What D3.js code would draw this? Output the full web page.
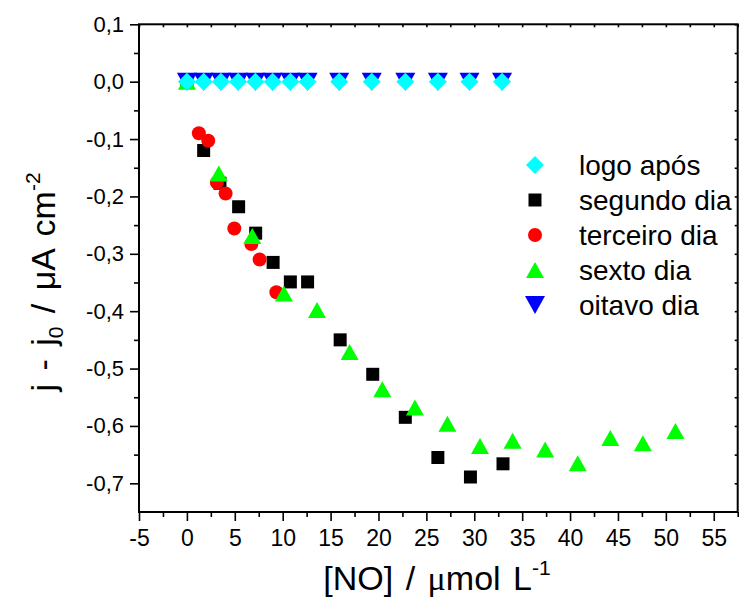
<!DOCTYPE html>
<html>
<head>
<meta charset="utf-8">
<script src="https://cdn.jsdelivr.net/npm/d3@7"></script>
<style>
  body { margin: 0; background: #fff; }
  text { font-family: "Liberation Sans", Arial, sans-serif; fill: #000; }
</style>
</head>
<body>
<svg id="chart" width="739" height="598"></svg>
<script>
// Concentration steps (µmol/L) for the first-day / eighth-day runs
const concLogo = [0, 1.75, 3.55, 5.35, 7.15, 8.95, 10.8, 12.6, 15.9, 19.3, 22.8, 26.2, 29.5, 32.9];
const logoApos = [0, 0, 0, 0, 0, 0, 0, 0, 0, 0, 0, 0, 0, 0];
const oitavoDia = [0, 0, 0, 0, 0, 0, 0, 0, 0, 0, 0, 0, 0, 0];

const concSegundo = [0, 1.75, 3.45, 5.4, 7.18, 9.0, 10.8, 12.6, 16.0, 19.4, 22.8, 26.2, 29.6, 33.0];
const segundoDia = [0, -0.120, -0.177, -0.218, -0.264, -0.315, -0.349, -0.349, -0.450, -0.510, -0.585, -0.655, -0.689, -0.666];

const concTerceiro = [1.25, 2.23, 3.13, 4.04, 4.95, 6.73, 7.59, 9.34];
const terceiroDia = [-0.090, -0.103, -0.176, -0.195, -0.256, -0.283, -0.310, -0.367];

const concSexto = [0, 3.33, 6.83, 10.13, 13.58, 16.99, 20.40, 23.8, 27.2, 30.6, 34.0, 37.4, 40.8, 44.2, 47.6, 51.0];
const sextoDia = [0, -0.160, -0.269, -0.369, -0.398, -0.471, -0.536, -0.568, -0.596, -0.635, -0.626, -0.641, -0.665, -0.621, -0.630, -0.609];

const xTicks = [-5, 0, 5, 10, 15, 20, 25, 30, 35, 40, 45, 50, 55];
const yTicks = [0.1, 0.0, -0.1, -0.2, -0.3, -0.4, -0.5, -0.6, -0.7];

const legendNames = ["logo após", "segundo dia", "terceiro dia", "sexto dia", "oitavo dia"];

const svg = d3.select("#chart");
const plotLeft = 139, plotRight = 737.7, plotTop = 24.3, plotBottom = 512;

const x = d3.scaleLinear().domain([-5, 57.5]).range([plotLeft, plotRight]);
const y = d3.scaleLinear().domain([-0.75, 0.1]).range([plotBottom, plotTop]);

// plain hyphen for negatives, comma as decimal separator
const fmtX = v => String(v);
const fmtY = v => d3.format(".1f")(v).replace("−", "-").replace(".", ",");

// minor tick positions halfway between majors
const xMinor = d3.range(-2.5, 57.6, 5);
const yMinor = [0.05, -0.05, -0.15, -0.25, -0.35, -0.45, -0.55, -0.65];

// ---- axes ----
const gx = svg.append("g").attr("transform", `translate(0,${plotBottom})`)
  .call(d3.axisBottom(x).tickValues(xTicks).tickSize(9).tickPadding(9).tickFormat(fmtX));
svg.append("g").attr("transform", `translate(0,${plotBottom})`)
  .call(d3.axisBottom(x).tickValues(xMinor).tickSize(5).tickFormat(""));
const gy = svg.append("g").attr("transform", `translate(${plotLeft},0)`)
  .call(d3.axisLeft(y).tickValues(yTicks).tickSize(9).tickPadding(6).tickFormat(fmtY));
svg.append("g").attr("transform", `translate(${plotLeft},0)`)
  .call(d3.axisLeft(y).tickValues(yMinor).tickSize(5).tickFormat(""));
// mirrored axes with short inward ticks
svg.append("g").attr("transform", `translate(0,${plotTop})`)
  .call(d3.axisBottom(x).tickValues(xTicks.concat(xMinor)).tickSize(3).tickFormat(""));
svg.append("g").attr("transform", `translate(${plotRight},0)`)
  .call(d3.axisLeft(y).tickValues(yTicks.concat(yMinor)).tickSize(3).tickFormat(""));

svg.selectAll(".domain").remove();
svg.selectAll(".tick line").attr("stroke", "#000").attr("stroke-width", 1.6);
svg.selectAll(".tick text").style("font-family", "'Liberation Sans', Arial, sans-serif").attr("fill", "#000");
gx.selectAll(".tick text").style("font-size", "23px");
gy.selectAll(".tick text").style("font-size", "22px");

svg.append("rect").attr("x", plotLeft).attr("y", plotTop)
  .attr("width", plotRight - plotLeft).attr("height", plotBottom - plotTop)
  .attr("fill", "none").attr("stroke", "#000").attr("stroke-width", 2);

// ---- marker shapes (centered on their bounding box) ----
const shapes = {
  square: (w) => `M${-w/2},${-w/2}h${w}v${w}h${-w}Z`,
  circle: (w) => { const r = w / 2; return `M${-r},0a${r},${r} 0 1,0 ${w},0a${r},${r} 0 1,0 ${-w},0Z`; },
  up: (w, h) => `M0,${-h/2}L${w/2},${h/2}L${-w/2},${h/2}Z`,
  down: (w, h) => `M${-w/2},${-h/2}L${w/2},${-h/2}L0,${h/2}Z`,
  diamond: (w, h) => `M0,${-h/2}L${w/2},0L0,${h/2}L${-w/2},0Z`
};

const series = [
  { name: legendNames[1], xs: concSegundo, ys: segundoDia, color: "#000000", path: shapes.square(13) },
  { name: legendNames[2], xs: concTerceiro, ys: terceiroDia, color: "#ff0000", path: shapes.circle(14) },
  { name: legendNames[3], xs: concSexto, ys: sextoDia, color: "#00ff00", path: shapes.up(18, 16) },
  { name: legendNames[4], xs: concLogo, ys: oitavoDia, color: "#0000ff", path: shapes.down(20, 18) },
  { name: legendNames[0], xs: concLogo, ys: logoApos, color: "#00ffff", path: shapes.diamond(18, 18) }
];

series.forEach(s => {
  svg.append("g").selectAll("path")
    .data(s.xs.map((c, i) => [c, s.ys[i]]))
    .join("path")
    .attr("d", s.path)
    .attr("transform", d => `translate(${x(d[0])},${y(d[1])})`)
    .attr("fill", s.color);
});

// ---- legend ----
const legendOrder = [series[4], series[0], series[1], series[2], series[3]];
const lg = svg.append("g");
legendOrder.forEach((s, i) => {
  const cy = 165 + i * 35;
  lg.append("path").attr("d", s.path).attr("transform", `translate(535,${cy})`).attr("fill", s.color);
  lg.append("text").attr("x", 579).attr("y", cy + 10).style("font-size", "28px").text(s.name);
});

// ---- axis titles ----
const xt = svg.append("text").attr("x", 437).attr("y", 590).attr("text-anchor", "middle")
  .style("font-size", "34px").style("word-spacing", "3px");
xt.append("tspan").text("[NO] / ");
xt.append("tspan").style("font-family", "'Liberation Serif', serif").text("μ");
xt.append("tspan").text("mol L");
xt.append("tspan").attr("dy", -15).style("font-size", "21px").text("-1");

const yt = svg.append("text").attr("transform", "translate(55,282) rotate(-90)")
  .attr("text-anchor", "middle").style("font-size", "34px").style("word-spacing", "4px");
yt.append("tspan").text("j - j");
yt.append("tspan").attr("dy", 8).style("font-size", "21px").text("0");
yt.append("tspan").attr("dy", -8).text(" / μA cm");
yt.append("tspan").attr("dy", -15).style("font-size", "21px").text("-2");
</script>
</body>
</html>
